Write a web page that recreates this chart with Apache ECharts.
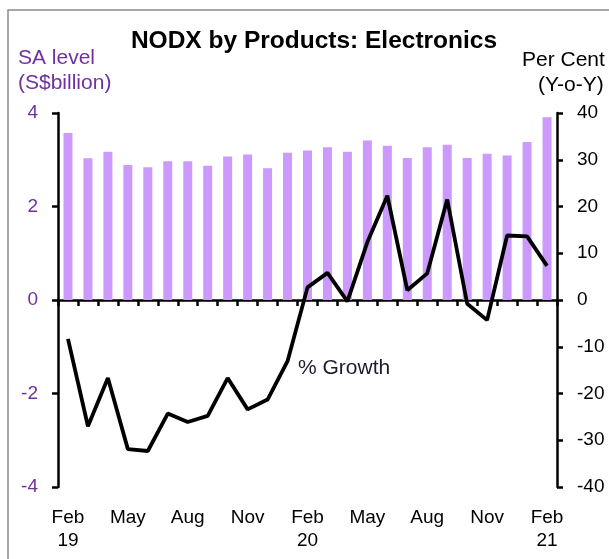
<!DOCTYPE html>
<html>
<head>
<meta charset="utf-8">
<script src="https://cdn.jsdelivr.net/npm/echarts@6/dist/echarts.min.js"></script>
<style>
	html, body { margin: 0; padding: 0; background: #fff; }
	#chart { width: 609px; height: 559px; }
</style>
</head>
<body>
<div id="chart"></div>
<script>
	var months = [ 'Feb\n19', 'Mar', 'Apr', 'May', 'Jun', 'Jul', 'Aug', 'Sep', 'Oct', 'Nov', 'Dec', 'Jan',
		'Feb\n20', 'Mar', 'Apr', 'May', 'Jun', 'Jul', 'Aug', 'Sep', 'Oct', 'Nov', 'Dec', 'Jan', 'Feb\n21' ];
	// SA level, S$ billion
	var level = [ 3.57, 3.03, 3.17, 2.89, 2.84, 2.97, 2.97, 2.87, 3.07, 3.11, 2.82, 3.15,
		3.20, 3.27, 3.17, 3.41, 3.30, 3.04, 3.27, 3.32, 3.04, 3.13, 3.09, 3.38, 3.91 ];
	// % growth, y-o-y
	var growth = [ -8.3, -27.0, -16.7, -31.9, -32.3, -24.3, -26.1, -24.8, -16.7, -23.4, -21.3, -13.1,
		2.7, 5.8, -0.3, 12.4, 22.3, 2.1, 5.7, 21.5, -0.8, -4.3, 13.8, 13.6, 7.3 ];

	var font = 'Liberation Sans, Arial, sans-serif';
	var purple = '#7030a0';

	var chart = echarts.init(document.getElementById('chart'));
	var option = {
		animation : false,
		textStyle : {
			fontFamily : font
		},
		grid : {
			left : 58,
			right : 52,
			top : 113,
			bottom : 72
		},
		graphic : [ {
			type : 'rect',
			shape : { x : 8, y : 10, width : 800, height : 800 },
			style : { fill : 'none', stroke : '#8c8c8c', lineWidth : 1.5 }
		}, {
			type : 'text',
			x : 314,
			y : 41,
			style : { text : 'NODX by Products: Electronics', font : 'bold 24.5px ' + font, fill : '#000',
				align : 'center', verticalAlign : 'middle' }
		}, {
			type : 'text',
			x : 18,
			y : 58,
			style : { text : 'SA level', font : '21px ' + font, fill : purple, verticalAlign : 'middle' }
		}, {
			type : 'text',
			x : 18,
			y : 83,
			style : { text : '(S$billion)', font : '21px ' + font, fill : purple, verticalAlign : 'middle' }
		}, {
			type : 'text',
			x : 522,
			y : 60,
			style : { text : 'Per Cent', font : '21px ' + font, fill : '#000', verticalAlign : 'middle' }
		}, {
			type : 'text',
			x : 538,
			y : 85,
			style : { text : '(Y-o-Y)', font : '21px ' + font, fill : '#000', verticalAlign : 'middle' }
		}, {
			type : 'text',
			x : 298,
			y : 368,
			style : { text : '% Growth', font : '21px ' + font, fill : '#1c1c2c', verticalAlign : 'middle' }
		} ],
		xAxis : [ {
			type : 'category',
			data : months,
			axisLine : {
				onZero : true,
				lineStyle : { color : '#000', width : 2.5 }
			},
			axisTick : {
				show : true,
				inside : false,
				interval : 0,
				length : 6,
				lineStyle : { color : '#000', width : 2.5 }
			},
			axisLabel : { show : false }
		}, {
			type : 'category',
			data : months,
			position : 'bottom',
			axisLine : { show : false, onZero : false },
			axisTick : { show : false },
			axisLabel : {
				interval : 2,
				margin : 19,
				color : '#000',
				fontSize : 19,
				lineHeight : 23,
				fontFamily : font
			}
		} ],
		yAxis : [ {
			type : 'value',
			min : -4,
			max : 4,
			interval : 2,
			splitLine : { show : false },
			axisLine : { show : true, lineStyle : { color : '#000', width : 2.5 } },
			axisTick : { show : true, length : 6, lineStyle : { color : '#000', width : 2.5 } },
			axisLabel : { color : purple, fontSize : 19, margin : 20, fontFamily : font }
		}, {
			type : 'value',
			min : -40,
			max : 40,
			interval : 10,
			position : 'right',
			splitLine : { show : false },
			axisLine : { show : true, lineStyle : { color : '#000', width : 2.5 } },
			axisTick : { show : true, length : 6, lineStyle : { color : '#000', width : 2.5 } },
			axisLabel : { color : '#000', fontSize : 19, margin : 20, fontFamily : font }
		} ],
		series : [ {
			name : 'SA level',
			type : 'bar',
			xAxisIndex : 0,
			yAxisIndex : 0,
			barWidth : 9,
			data : level,
			itemStyle : { color : '#cc99ff' }
		}, {
			name : '% Growth',
			type : 'line',
			xAxisIndex : 0,
			yAxisIndex : 1,
			data : growth,
			symbol : 'none',
			lineStyle : { color : '#000', width : 3.8 },
			z : 5
		} ]
	};
	chart.setOption(option);
</script>
</body>
</html>
